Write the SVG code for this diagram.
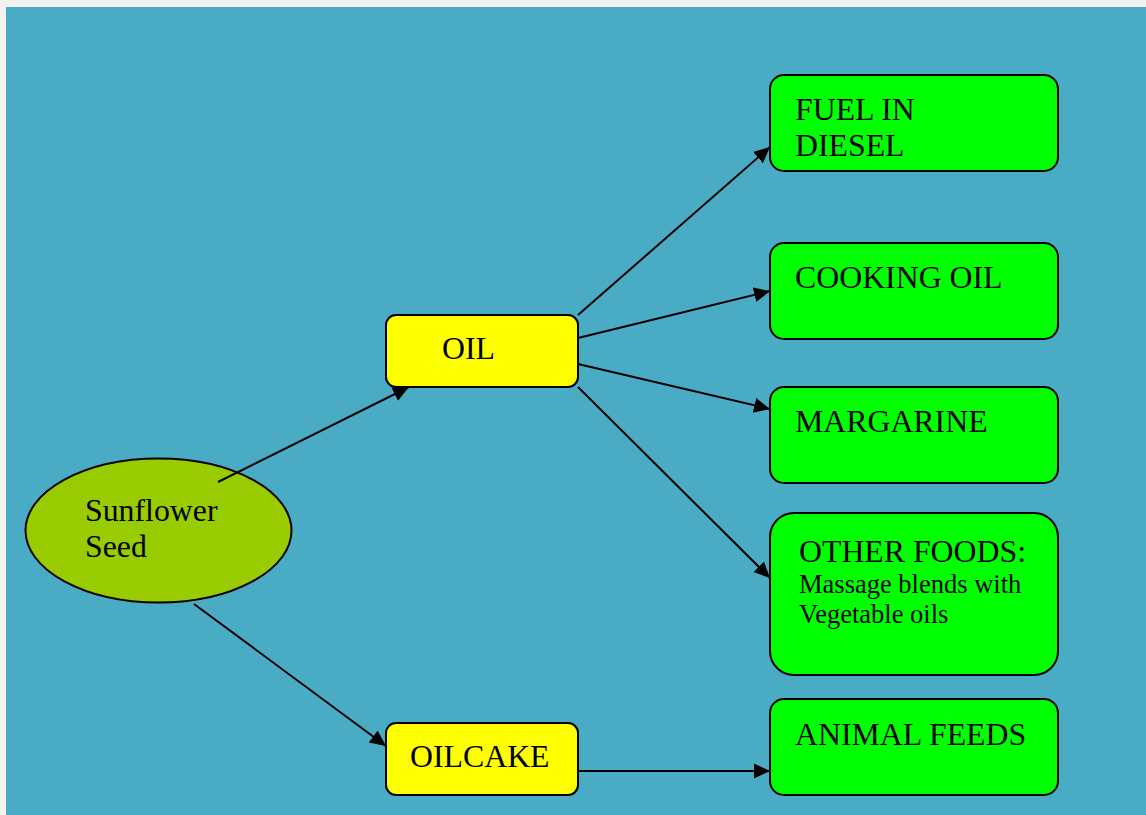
<svg xmlns="http://www.w3.org/2000/svg" width="1146" height="815" viewBox="0 0 1146 815">
<style>
.t{font-family:"Liberation Serif","Times New Roman",serif;font-size:31.8px;fill:#000}
.s{font-family:"Liberation Serif","Times New Roman",serif;font-size:26.5px;fill:#000}
.y{fill:#ffff00;stroke:#000;stroke-width:2}
.g{fill:#00ff00;stroke:#000;stroke-width:2}
.c{stroke:#000;stroke-width:2;fill:none;marker-end:url(#ah)}
</style>
<defs>
<marker id="ah" markerUnits="userSpaceOnUse" markerWidth="18" markerHeight="18" refX="16" refY="8" orient="auto">
<path d="M0,0.5 L16,8 L0,15.5 z" fill="#000"/>
</marker>
</defs>
<rect x="0" y="0" width="1146" height="815" fill="#f2f2f2"/>
<rect x="6" y="7" width="1140" height="808" fill="#4aabc5"/>
<g id="sunflower">
<ellipse cx="158.5" cy="530.5" rx="133" ry="72" fill="#99cc00" stroke="#000" stroke-width="2"/>
<text class="t" x="85" y="521">Sunflower</text>
<text class="t" x="85" y="557">Seed</text>
</g>
<g id="oil">
<rect class="y" x="386" y="315" width="192" height="72" rx="10"/>
<text class="t" x="442" y="359">OIL</text>
</g>
<g id="oilcake">
<rect class="y" x="386" y="723" width="192" height="72" rx="10"/>
<text class="t" x="410" y="767">OILCAKE</text>
</g>
<g id="fuel">
<rect class="g" x="770" y="75" width="288" height="96" rx="14"/>
<text class="t" x="795" y="120">FUEL IN</text>
<text class="t" x="795" y="156">DIESEL</text>
</g>
<g id="cooking">
<rect class="g" x="770" y="243" width="288" height="96" rx="14"/>
<text class="t" x="795" y="288">COOKING OIL</text>
</g>
<g id="margarine">
<rect class="g" x="770" y="387" width="288" height="96" rx="14"/>
<text class="t" x="795" y="432">MARGARINE</text>
</g>
<g id="otherfoods">
<rect class="g" x="770" y="513" width="288" height="162" rx="24"/>
<text class="t" x="799" y="562">OTHER FOODS:</text>
<text class="s" x="799" y="593">Massage blends with</text>
<text class="s" x="799" y="623">Vegetable oils</text>
</g>
<g id="animalfeeds">
<rect class="g" x="770" y="699" width="288" height="96" rx="14"/>
<text class="t" x="795" y="745">ANIMAL FEEDS</text>
</g>
<g id="connectors">
<line class="c" x1="218" y1="482" x2="409" y2="387"/>
<line class="c" x1="194" y1="604" x2="386" y2="746"/>
<line class="c" x1="578" y1="315" x2="770" y2="147"/>
<line class="c" x1="578" y1="338" x2="770" y2="291"/>
<line class="c" x1="578" y1="364" x2="770" y2="409"/>
<line class="c" x1="578" y1="387" x2="770" y2="578"/>
<line class="c" x1="578" y1="771" x2="770" y2="771"/>
</g>
</svg>
